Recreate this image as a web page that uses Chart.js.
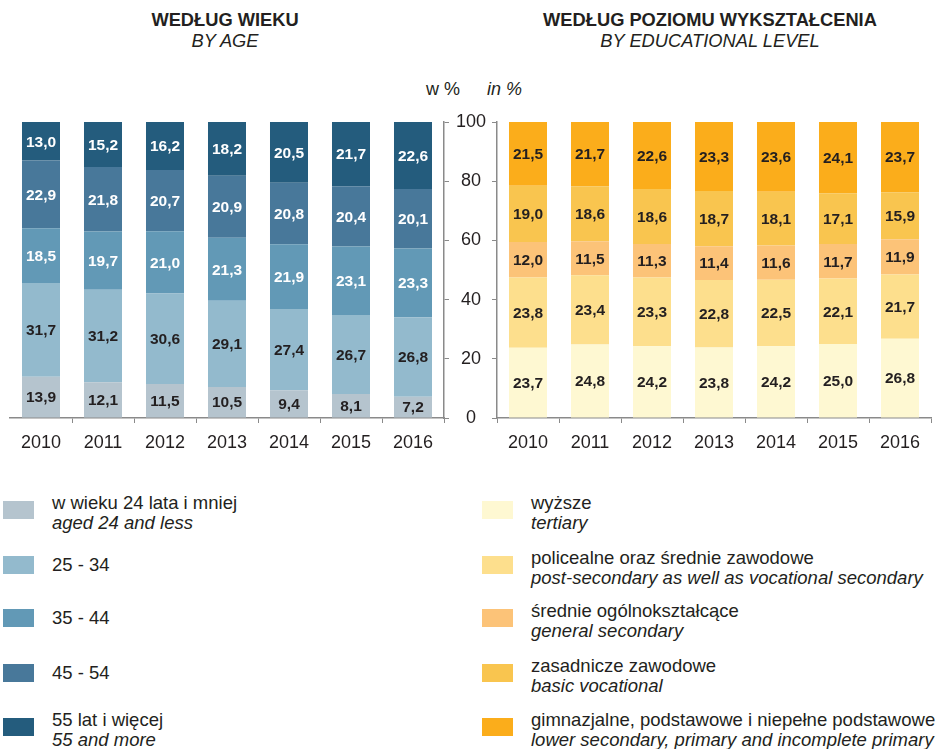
<!DOCTYPE html>
<html>
<head>
<meta charset="utf-8">
<script src="https://cdn.jsdelivr.net/npm/chart.js@4"></script>
<style>
  body { margin: 0; background: #fff; font-family: "Liberation Sans", Arial, sans-serif; color: #231f20; }
  #wrap { position: relative; width: 939px; height: 749px; overflow: hidden; }
  canvas { position: absolute; }
  .t { position: absolute; font-size: 18.5px; white-space: nowrap; line-height: 20px; }
  .h { font-size: 18.3px; }
  .b { font-weight: bold; }
  .i { font-style: italic; }
  .sw { position: absolute; width: 31px; height: 18px; }
</style>
</head>
<body>
<div id="wrap">
  <div class="t h b" style="left:0;width:450px;text-align:center;top:10px;">WEDŁUG WIEKU</div>
  <div class="t h i" style="left:0;width:450px;text-align:center;top:31px;">BY AGE</div>
  <div class="t h b" style="left:480px;width:460px;text-align:center;top:10px;">WEDŁUG POZIOMU WYKSZTAŁCENIA</div>
  <div class="t h i" style="left:480px;width:460px;text-align:center;top:31px;">BY EDUCATIONAL LEVEL</div>
  <div class="t" style="left:426px;top:79px;font-size:18px;">w %</div>
  <div class="t i" style="left:487px;top:79px;font-size:18px;">in %</div>

  <div style="position:absolute;left:0;top:0;width:497px;height:470px;"><canvas id="ageChart"></canvas></div>
  <div style="position:absolute;left:492px;top:0;width:447px;height:470px;"><canvas id="eduChart"></canvas></div>

  <div id="legend"></div>
</div>

<script>
// lata / years
const years = ["2010", "2011", "2012", "2013", "2014", "2015", "2016"];

// wg wieku
const ageLabelsPl = ["w wieku 24 lata i mniej", "25 - 34", "35 - 44", "45 - 54", "55 lat i więcej"];
const ageLabelsEn = ["aged 24 and less", "", "", "", "55 and more"];
const age24 = [13.9, 12.1, 11.5, 10.5, 9.4, 8.1, 7.2];
const age25_34 = [31.7, 31.2, 30.6, 29.1, 27.4, 26.7, 26.8];
const age35_44 = [18.5, 19.7, 21.0, 21.3, 21.9, 23.1, 23.3];
const age45_54 = [22.9, 21.8, 20.7, 20.9, 20.8, 20.4, 20.1];
const age55 = [13.0, 15.2, 16.2, 18.2, 20.5, 21.7, 22.6];

// wg wykształcenia
const eduLabelsPl = ["wyższe", "policealne oraz średnie zawodowe", "średnie ogólnokształcące", "zasadnicze zawodowe", "gimnazjalne, podstawowe i niepełne podstawowe"];
const eduLabelsEn = ["tertiary", "post-secondary as well as vocational secondary", "general secondary", "basic vocational", "lower secondary, primary and incomplete primary"];
const eduTertiary = [23.7, 24.8, 24.2, 23.8, 24.2, 25.0, 26.8];
const eduPostSec = [23.8, 23.4, 23.3, 22.8, 22.5, 22.1, 21.7];
const eduGeneral = [12.0, 11.5, 11.3, 11.4, 11.6, 11.7, 11.9];
const eduBasic = [19.0, 18.6, 18.6, 18.7, 18.1, 17.1, 15.9];
const eduLower = [21.5, 21.7, 22.6, 23.3, 23.6, 24.1, 23.7];

const yTicks = [0, 20, 40, 60, 80, 100];

const ageColors = ["#b5c4ce", "#93bacd", "#6299b6", "#48789a", "#245c7d"];
const ageTextColors = ["#231f20", "#231f20", "#ffffff", "#ffffff", "#ffffff"];
const eduColors = ["#fef8d2", "#fddf8d", "#fcc378", "#f9c54f", "#fbad1b"];
const eduTextColors = ["#231f20", "#231f20", "#231f20", "#231f20", "#231f20"];

const axisColor = "#8a8a8a";
const FONT = "'Liberation Sans', Arial, sans-serif";

// etykiety wartosci w srodku slupkow
const barValues = {
  id: "barValues",
  afterDatasetsDraw(chart) {
    const ctx = chart.ctx;
    ctx.save();
    ctx.font = "bold 15.5px " + FONT;
    ctx.textAlign = "center";
    ctx.textBaseline = "middle";
    chart.data.datasets.forEach((ds, i) => {
      const meta = chart.getDatasetMeta(i);
      meta.data.forEach((bar, j) => {
        ctx.fillStyle = ds.textColor;
        const txt = ds.data[j].toFixed(1).replace(".", ",");
        ctx.fillText(txt, bar.x, (bar.y + bar.base) / 2 + 1);
      });
    });
    ctx.restore();
  }
};

function makeChart(id, seriesList, colors, textColors, side) {
  const datasets = seriesList.map((d, i) => ({
    data: d,
    backgroundColor: colors[i],
    textColor: textColors[i],
    borderWidth: 0,
    barPercentage: 0.613,
    categoryPercentage: 1
  }));
  const isLeft = side === "left";
  return new Chart(document.getElementById(id), {
    type: "bar",
    data: { labels: years, datasets },
    plugins: [barValues],
    options: {
      responsive: true,
      maintainAspectRatio: false,
      animation: false,
      layout: {
        padding: isLeft ? { left: 10, top: 122, right: 0, bottom: 0 } : { left: 0, top: 122, right: 8, bottom: 0 }
      },
      plugins: { legend: { display: false }, tooltip: { enabled: false } },
      scales: {
        x: {
          stacked: true,
          offset: true,
          border: { display: true, color: axisColor, width: 1.5 },
          grid: {
            offset: true,
            drawOnChartArea: false,
            drawTicks: true,
            tickLength: 5,
            color: ctx => {
              // bez kreski na zewnetrznym brzegu
              if (isLeft && ctx.index === 0) return "rgba(0,0,0,0)";
              if (!isLeft && ctx.index === years.length) return "rgba(0,0,0,0)";
              return axisColor;
            }
          },
          ticks: { color: "#231f20", font: { family: FONT, size: 18 }, padding: 9 },
          afterFit: s => { s.height = 52; }
        },
        y: {
          stacked: true,
          position: isLeft ? "right" : "left",
          min: 0,
          max: 100,
          afterBuildTicks: s => { s.ticks = yTicks.map(v => ({ value: v })); },
          border: { display: true, color: axisColor, width: 1.5 },
          grid: { drawOnChartArea: false, drawTicks: true, tickLength: 5, color: axisColor },
          ticks: isLeft
            ? { display: true, color: "#231f20", font: { family: FONT, size: 18 }, padding: 7, crossAlign: "center" }
            : { display: false },
          afterFit: s => { s.width = isLeft ? 53 : 5; }
        }
      }
    }
  });
}

makeChart("ageChart", [age24, age25_34, age35_44, age45_54, age55], ageColors, ageTextColors, "left");
makeChart("eduChart", [eduTertiary, eduPostSec, eduGeneral, eduBasic, eduLower], eduColors, eduTextColors, "right");

// legenda
const rowTops = [501, 556, 609, 664, 718];
const legend = document.getElementById("legend");
function addLegend(x, colors, pl, en) {
  colors.forEach((c, i) => {
    const sw = document.createElement("div");
    sw.className = "sw";
    sw.style.left = x + "px";
    sw.style.top = rowTops[i] + "px";
    sw.style.background = c;
    legend.appendChild(sw);
    const t = document.createElement("div");
    t.className = "t";
    t.style.left = (x + 49) + "px";
    if (en[i]) {
      t.style.top = (rowTops[i] - 8) + "px";
      t.innerHTML = pl[i] + '<br><span class="i">' + en[i] + "</span>";
    } else {
      t.style.top = (rowTops[i] - 1) + "px";
      t.textContent = pl[i];
    }
    legend.appendChild(t);
  });
}
addLegend(3, ageColors, ageLabelsPl, ageLabelsEn);
addLegend(482, eduColors, eduLabelsPl, eduLabelsEn);
</script>
</body>
</html>
